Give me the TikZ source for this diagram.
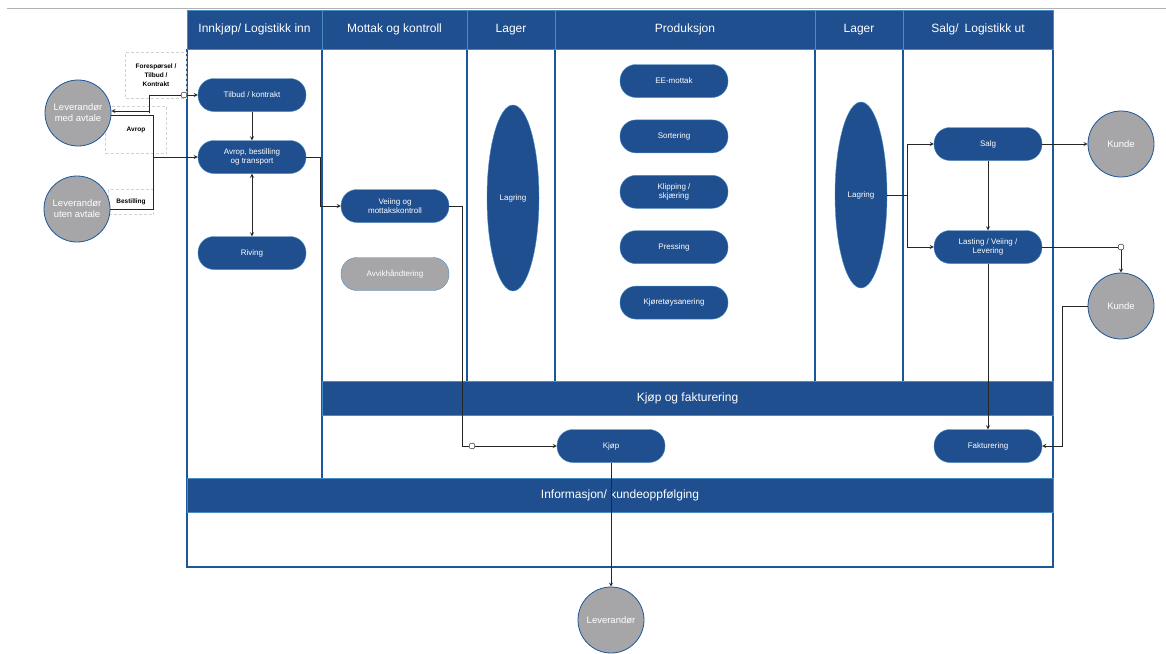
\documentclass[tikz,border=0pt]{standalone}
\usepackage{fontspec}
\setmainfont{Liberation Sans}
\usepackage{tikz}
\usetikzlibrary{positioning, arrows, shapes.geometric}
\definecolor{bandblue}{RGB}{31,79,143}
\definecolor{bandedge}{RGB}{72,140,196}
\definecolor{colline}{RGB}{28,86,156}
\definecolor{actorgray}{RGB}{166,166,168}
\tikzset{
	>=stealth,
	align=center,
	head/.style={rectangle, fill=bandblue, draw=bandedge, thick, minimum height=39pt, text=white, font=\fontsize{12}{14}\selectfont},
	band/.style={rectangle, fill=bandblue, draw=bandedge, thick, minimum height=34pt, text=white, font=\fontsize{12}{14}\selectfont},
	proc/.style={rectangle, rounded corners=16pt, fill=bandblue, draw=bandedge, minimum width=108pt, minimum height=33pt, text=white, inner sep=1pt, font=\fontsize{8}{9.5}\selectfont},
	store/.style={ellipse, fill=bandblue, draw=bandedge, minimum width=52pt, minimum height=186pt, text=white, inner sep=1pt, font=\fontsize{8}{9.5}\selectfont},
	actor/.style={circle, fill=actorgray, draw=colline, thick, minimum size=66pt, inner sep=0pt, text=white, font=\fontsize{9.5}{11}\selectfont},
	lbl/.style={rectangle, draw=gray!35, densely dashed, inner sep=2pt, text=black, font=\fontsize{6.5}{9}\selectfont\bfseries},
	dot/.style={circle, draw=black, fill=white, inner sep=0pt, minimum size=6pt},
	colline/.style={draw=colline, line width=1.3pt},
	link/.style={draw=black!85, line width=0.8pt}
}

\begin{document}
\begin{tikzpicture}
	[ x=1pt, y=-1pt ]
	\useasboundingbox (0,0) rectangle (1166,653);
	\draw[gray!60, line width=1pt] (7,8) -- (1166,8);
	% swimlanes
	\draw[colline] (187,49) -- (187,567) -- (1053,567) -- (1053,49);
	\draw[colline] (322,49) -- (322,478);
	\foreach \x in {467,555,815,903}
		\draw[colline] (\x,49) -- (\x,381);
	\node[head, minimum width=135pt] (h1) at (254.5,29.5) {Innkjøp/ Logistikk inn};
	\node[head, minimum width=145pt] (h2) at (394.5,29.5) {Mottak og kontroll};
	\node[head, minimum width=88pt] (h3) at (511,29.5) {Lager};
	\node[head, minimum width=260pt] (h4) at (685,29.5) {Produksjon};
	\node[head, minimum width=88pt] (h5) at (859,29.5) {Lager};
	\node[head, minimum width=150pt] (h6) at (978,29.5) {Salg/\enspace Logistikk ut};
	\node[band, minimum width=731pt] (kf) at (687.5,398) {Kjøp og fakturering};
	\node[band, minimum width=866pt] (info) at (620,495) {Informasjon/ kundeoppfølging};
	% labels
	\node[lbl, minimum width=61pt, minimum height=46pt] (lforesp) at (156,75) {Forespørsel /\\Tilbud /\\Kontrakt};
	\node[lbl, minimum width=61pt, minimum height=47pt] (lavrop) at (136,130) {Avrop};
	\node[lbl, minimum width=45pt, minimum height=25pt] (lbest) at (131,202) {Bestilling};
	% actors
	\node[actor] (medavt) at (78,113) {Leverandør\\med avtale};
	\node[actor] (utenavt) at (77,209) {Leverandør\\uten avtale};
	\node[actor] (kunde1) at (1121,144) {Kunde};
	\node[actor] (kunde2) at (1121,306) {Kunde};
	\node[actor] (lev) at (611,620) {Leverandør};
	% processes
	\node[proc] (tilbud) at (252,95) {Tilbud / kontrakt};
	\node[proc] (avrop) at (252,157) {Avrop, bestilling\\og transport};
	\node[proc] (riving) at (252,253) {Riving};
	\node[proc] (veiing) at (395,206) {Veiing og\\mottakskontroll};
	\node[proc, fill=actorgray] (avvik) at (395,274) {Avvikhåndtering};
	\node[store] (lager1) at (513,198) {Lagring};
	\node[proc] (eemottak) at (674,81) {EE-mottak};
	\node[proc, below=22pt of eemottak] (sortering) {Sortering};
	\node[proc, below=22pt of sortering] (klipping) {Klipping /\\skjæring};
	\node[proc, below=22pt of klipping] (pressing) {Pressing};
	\node[proc, below=22pt of pressing] (kjoretoy) {Kjøretøysanering};
	\node[store] (lager2) at (861,195) {Lagring};
	\node[proc] (salg) at (988,144) {Salg};
	\node[proc] (lasting) at (988,247) {Lasting / Veiing /\\Levering};
	\node[proc] (kjop) at (611,446) {Kjøp};
	\node[proc] (faktura) at (988,446) {Fakturering};
	\node[dot] (dottilb) at (184,95) {};
	\node[dot] (dotkjop) at (472,446) {};
	\node[dot] (dotlast) at (1121,247) {};
	\coordinate (jbest) at (153,157);
	% flows
	\draw[link, ->] (dottilb) -- (tilbud);
	\draw[link, ->] (dottilb) -| ([xshift=-31pt]dottilb.west |- medavt.east) |- ([yshift=2pt]medavt.east);
	\draw[link, ->] ([yshift=-2pt]medavt.east) -| (jbest) -- (avrop.west);
	\draw[link] (utenavt.east) -| (jbest);
	\draw[link, ->] (tilbud) -- (avrop);
	\draw[link, <->] (avrop) -- (riving);
	\draw[link, ->] (avrop.east) -- ++(14,0) |- (veiing.west);
	\draw[link] (veiing.east) -- ++(13,0) |- (dotkjop);
	\draw[link, ->] (dotkjop) -- (kjop);
	\draw[link, ->] (lager2.east) -- ++(20,0) |- (salg.west);
	\draw[link, ->] (lager2.east) -- ++(20,0) |- (lasting.west);
	\draw[link, ->] (salg) -- (kunde1);
	\draw[link, ->] (salg) -- (lasting);
	\draw[link] (lasting.east) -- (dotlast);
	\draw[link, ->] (dotlast) -- (kunde2);
	\draw[link, ->] (lasting) -- (faktura);
	\draw[link, ->] (kunde2.west) -- ++(-25,0) |- (faktura.east);
	\draw[link, ->] (kjop) -- (lev);
\end{tikzpicture}
\end{document}
